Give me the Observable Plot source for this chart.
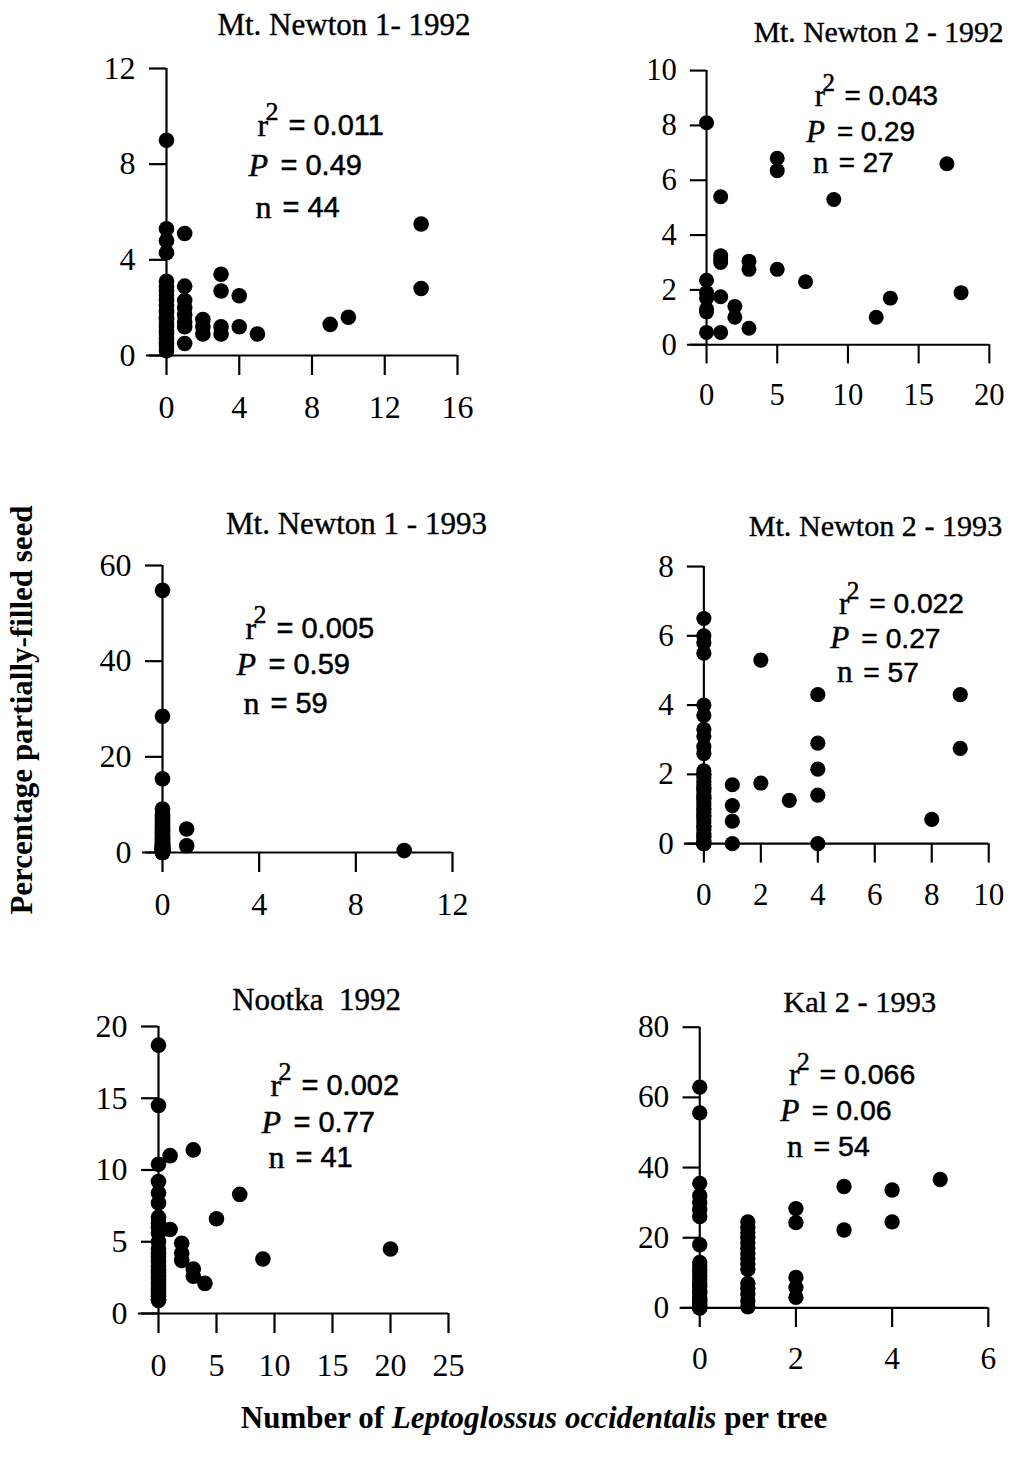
<!DOCTYPE html>
<html>
<head>
<meta charset="utf-8">
<script src="https://cdn.jsdelivr.net/npm/d3@7"></script>
<script src="https://cdn.jsdelivr.net/npm/@observablehq/plot@0.6"></script>
<style>
  html, body { margin: 0; padding: 0; background: #fff; overflow: hidden; }
  #page { position: relative; width: 1032px; height: 1467px; overflow: hidden; background: #fff; }
  .panel { position: absolute; }
  .ylab { position: absolute; left: 22px; top: 710px; transform: translate(-50%, -50%) rotate(-90deg);
          font-family: "Liberation Serif", serif; font-weight: bold; font-size: 31px; white-space: nowrap; color: #000; }
  .xlab { position: absolute; left: 534px; top: 1418px; transform: translate(-50%, -50%);
          font-family: "Liberation Serif", serif; font-weight: bold; font-size: 31px; white-space: nowrap; color: #000; }
</style>
</head>
<body>
<div id="page">
  <div class="ylab">Percentage partially-filled seed</div>
  <div class="xlab">Number of <i>Leptoglossus occidentalis</i> per tree</div>
</div>
<script>
// ---------- DATA ----------
const titles = ["Mt. Newton 1- 1992", "Mt. Newton 2 - 1992", "Mt. Newton 1 - 1993",
                "Mt. Newton 2 - 1993", "Nootka  1992", "Kal 2 - 1993"];
const r2Labels = ["= 0.011", "= 0.043", "= 0.005", "= 0.022", "= 0.002", "= 0.066"];
const pLabels  = ["= 0.49", "= 0.29", "= 0.59", "= 0.27", "= 0.77", "= 0.06"];
const nLabels  = ["= 44", "= 27", "= 59", "= 57", "= 41", "= 54"];

const xTicks = [[0, 4, 8, 12, 16], [0, 5, 10, 15, 20], [0, 4, 8, 12], [0, 2, 4, 6, 8, 10], [0, 5, 10, 15, 20, 25], [0, 2, 4, 6]];
const yTicks = [[0, 4, 8, 12], [0, 2, 4, 6, 8, 10], [0, 20, 40, 60], [0, 2, 4, 6, 8], [0, 5, 10, 15, 20], [0, 20, 40, 60, 80]];

// Mt. Newton 1 - 1992
const nm1_92_x = [0,0,0,0,0,0,0,0,0,0,0,0,0,0,0,0,0,0,0,0,0,0, 1,1,1,1,1,1,1,1, 2,2,2, 3,3,3,3, 4,4, 5, 9, 10, 14,14];
const nm1_92_y = [9.0,5.3,4.8,4.3,3.1,2.9,2.7,2.5,2.3,2.1,1.9,1.8,1.6,1.5,1.3,1.2,1.0,0.9,0.7,0.5,0.4,0.2,
                  5.1,2.9,2.3,2.0,1.7,1.4,1.2,0.5, 1.5,1.2,0.9, 3.4,2.7,1.2,0.9, 2.5,1.2, 0.9, 1.3, 1.6, 5.5,2.8];
// Mt. Newton 2 - 1992
const nm2_92_x = [0,0,0,0,0,0,0, 1,1,1,1,1,1, 2,2, 3,3,3, 5,5,5, 7, 9, 12, 13, 17, 18];
const nm2_92_y = [8.1,2.35,1.9,1.7,1.3,1.2,0.45, 5.4,3.25,3.1,3.0,1.75,0.45, 1.4,1.0, 3.05,2.75,0.6, 6.8,6.35,2.75, 2.3, 5.3, 1.0, 1.7, 6.6, 1.9];
// Mt. Newton 1 - 1993
const nm1_93_x = [0,0,0,0, 0,0,0,0,0,0,0,0,0,0,0,0,0,0,0,0,0,0,0,0,0,0,0,0,0,0,0,0,0,0,0,0,0,0,0,0,0,0,0,0,0,0,0,0,0,0,0,0,0,0,0,0, 1,1, 10];
const nm1_93_y = [54.8,28.5,15.4,9.1,
                  8.0,7.5,7.0,6.6,6.2,5.8,5.5,5.1,4.8,4.5,4.2,3.9,3.6,3.3,3.0,2.8,2.6,2.4,2.2,2.0,1.8,1.6,1.5,1.4,1.3,1.2,
                  1.1,1.0,0.9,0.8,0.7,0.6,0.5,0.5,0.4,0.4,0.3,0.3,0.2,0.2,0.1,0.1,0,0,0,0,0,0,0.6,0.8,1.0,1.2,
                  4.9,1.4, 0.4];
// Mt. Newton 2 - 1993
const nm2_93_x = [0,0,0,0,0,0,0,0,0,0, 0,0,0,0,0,0,0,0,0,0,0,0,0,0,0,0,0,0,0,0,0,0,0,0,0,0,0,0,0,0,0,0,
                  1,1,1,1, 2,2, 3, 4,4,4,4,4, 8, 9,9];
const nm2_93_y = [6.5,6.0,5.8,5.5,4.0,3.7,3.3,3.1,2.8,2.6,
                  2.1,2.0,1.9,1.8,1.7,1.6,1.5,1.4,1.3,1.2,1.1,1.0,0.9,0.8,0.7,0.6,0.5,0.4,0.3,0.2,0.1,0,0,0,0,0.2,0.5,0.8,1.0,1.3,1.6,2.0,
                  1.7,1.1,0.65,0, 5.3,1.75, 1.25, 4.3,2.9,2.15,1.4,0, 0.7, 4.3,2.75];
// Nootka 1992
const noo_92_x = [0,0,0,0,0,0,0,0,0, 0,0,0,0,0,0,0,0,0,0,0,0,0,0,0,0,0,0,0, 1,1, 2,2,2, 3,3,3, 4, 5, 7, 9, 20];
const noo_92_y = [18.7,14.5,10.4,9.2,8.4,7.7,6.7,6.3,5.6,
                  4.5,4.2,3.9,3.6,3.3,3.0,2.8,2.6,2.4,2.2,2.0,1.8,1.6,1.4,1.2,1.0,0.9,5.0,6.0,
                  11.0,5.85, 4.9,4.2,3.7, 11.4,3.1,2.6, 2.1, 6.6, 8.3, 3.8, 4.5];
// Kal 2 - 1993
const kal_93_x = [0,0,0,0,0,0,0,0, 0,0,0,0,0,0,0,0,0,0,0,0,0,0,0,0,0,0,0,0,0,
                  1,1,1,1,1,1,1,1,1,1,1,1,1,1,1, 2,2,2,2,2, 3,3, 4,4, 5];
const kal_93_y = [62.9,55.6,35.5,32,30,28,26,18,
                  13,12,11,10,9,8,7,6.5,6,5,4.5,4,3,2.5,2,1.5,1,0.5,0,0,0,
                  24.5,23,21.5,20,18.5,17,15.5,14,12.5,11,7,5.5,4,2,0.3,
                  28.3,24.3,8.7,5.8,3.0, 34.6,22.2, 33.6,24.5, 36.6];

const seriesX = [nm1_92_x, nm2_92_x, nm1_93_x, nm2_93_x, noo_92_x, kal_93_x];
const seriesY = [nm1_92_y, nm2_92_y, nm1_93_y, nm2_93_y, noo_92_y, kal_93_y];

// ---------- LAYOUT (pixels) ----------
const layout = [
  {left: 166, top: 68,   w: 291, h: 287, tdx: 32, tdy: -43, ax: 91,  ay: [57, 97, 139]},
  {left: 710, top: 73,   w: 295, h: 286, tdx: 32, tdy: -40, ax: 113, ay: [27, 64, 97]},
  {left: 162, top: 565,  w: 290, h: 287, tdx: 49, tdy: -41, ax: 83,  ay: [63, 99, 138]},
  {left: 706, top: 568,  w: 293, h: 285, tdx: 30, tdy: -41, ax: 139, ay: [39, 74, 109]},
  {left: 158, top: 1026, w: 290, h: 287, tdx: 13, tdy: -26, ax: 112, ay: [59, 96, 131]},
  {left: 701, top: 1028, w: 294, h: 286, tdx: 16, tdy: -25, ax: 91,  ay: [49, 85, 122]}
];

const ML = 95, MR = 45, MT = 70, MB = 85;
const SERIF = "Liberation Serif";
const SANS = "Liberation Sans";
const TICK_FS = 32;
const page = document.getElementById("page");

function txt(s, dx, dy, o = {}) {
  return Plot.text([s], {
    text: d => d, frameAnchor: "top-left", dx: dx, dy: dy,
    textAnchor: "start", lineAnchor: "middle",
    fontSize: o.fontSize || 32, fontFamily: o.fontFamily || SERIF,
    fontStyle: o.fontStyle || "normal", fill: "black",
    stroke: "black", strokeWidth: 0.5
  });
}

for (let i = 0; i < 6; i++) {
  const L = layout[i];
  const xs = xTicks[i], ys = yTicks[i];
  const data = seriesX[i].map((x, k) => ({x, y: seriesY[i][k]}));
  const ax = L.ax;
  const svg = Plot.plot({
    width: ML + L.w + MR,
    height: MT + L.h + MB,
    marginLeft: ML, marginRight: MR, marginTop: MT, marginBottom: MB,
    style: {background: "transparent", color: "black", overflow: "visible", fontFamily: SERIF},
    x: {domain: [xs[0], xs[xs.length - 1]]},
    y: {domain: [ys[0], ys[ys.length - 1]]},
    marks: [
      Plot.ruleY([0], {insetLeft: -20, stroke: "black", strokeWidth: 2.2}),
      Plot.ruleX([0], {stroke: "black", strokeWidth: 2.2}),
      Plot.axisX({ticks: xs, tickSize: 20, tickPadding: 20, label: null, tickFormat: d => String(d),
                  fontSize: TICK_FS, fontFamily: SERIF, stroke: "black", strokeWidth: 2.2}),
      Plot.axisY({ticks: ys, tickSize: 17, tickPadding: 14, label: null, tickFormat: d => String(d),
                  fontSize: TICK_FS, fontFamily: SERIF, stroke: "black", strokeWidth: 2.2}),
      Plot.dot(data, {x: "x", y: "y", r: 7.8, fill: "black", stroke: "none"}),
      Plot.text([titles[i]], {text: d => d, frameAnchor: "top", dx: L.tdx, dy: L.tdy,
                              lineAnchor: "middle", fontSize: 31, fontFamily: SERIF, fill: "black",
                              stroke: "black", strokeWidth: 0.4}),
      // r^2 line
      txt("r", ax, L.ay[0]),
      txt("2", ax + 8, L.ay[0] - 14, {fontSize: 26}),
      txt(r2Labels[i], ax + 31, L.ay[0], {fontFamily: SANS, fontSize: 29}),
      // P line
      txt("P", ax - 9, L.ay[1], {fontStyle: "italic"}),
      txt(pLabels[i], ax + 23, L.ay[1], {fontFamily: SANS, fontSize: 29}),
      // n line
      txt("n", ax - 2, L.ay[2]),
      txt(nLabels[i], ax + 25, L.ay[2], {fontFamily: SANS, fontSize: 29})
    ]
  });
  const div = document.createElement("div");
  div.className = "panel";
  div.style.left = (L.left - ML) + "px";
  div.style.top = (L.top - MT) + "px";
  div.appendChild(svg);
  page.appendChild(div);
}
</script>
</body>
</html>
